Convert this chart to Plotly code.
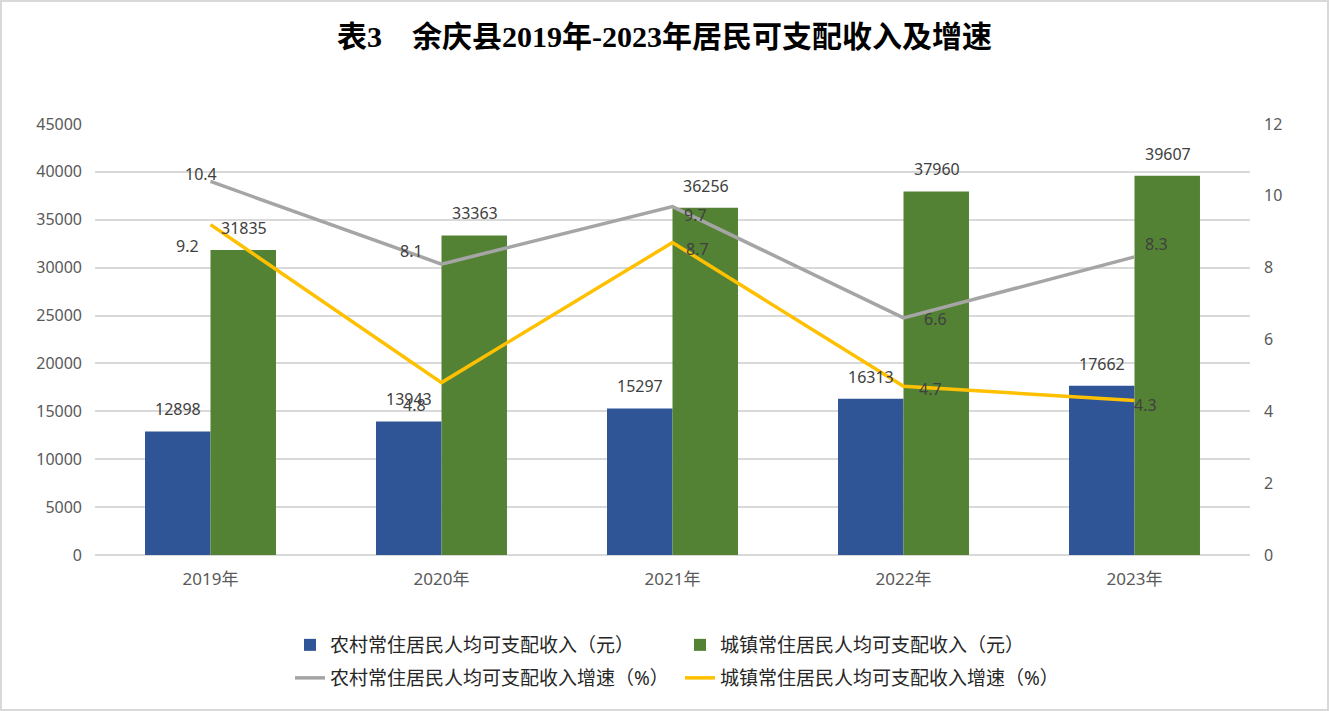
import plotly.graph_objects as go

# data
years = ['2019年', '2020年', '2021年', '2022年', '2023年']
rural_income = [12898, 13943, 15297, 16313, 17662]
urban_income = [31835, 33363, 36256, 37960, 39607]
rural_growth = [10.4, 8.1, 9.7, 6.6, 8.3]
urban_growth = [9.2, 4.8, 8.7, 4.7, 4.3]

# label offsets (px) for the line labels, as placed in the original chart
rural_label_shift = [(-10, 7), (-30, 13), (23, -8), (32, -1), (22, 13)]
urban_label_shift = [(-23, -21), (-27, -22), (25, -6), (27, -3), (11, -4)]

W, H = 1329, 711
L, R, T, B = 95, 79, 124, 156
pw, ph = W - L - R, H - T - B

font_main = 'Noto Sans, Noto Sans CJK SC'
label_font = dict(family=font_main, size=16, color='#404040')
tick_font = dict(family=font_main, size=16, color='#595959')

fig = go.Figure()

fig.add_trace(go.Bar(
    x=years, y=rural_income, name='农村常住居民人均可支配收入（元）',
    marker_color='#2F5597', marker_line_width=0, legend='legend'))
fig.add_trace(go.Bar(
    x=years, y=urban_income, name='城镇常住居民人均可支配收入（元）',
    marker_color='#548235', marker_line_width=0, legend='legend'))

fig.add_trace(go.Scatter(
    x=years, y=rural_growth, yaxis='y2', mode='lines',
    name='农村常住居民人均可支配收入增速（%）',
    line=dict(color='#A5A5A5', width=3.5), legend='legend2'))
fig.add_trace(go.Scatter(
    x=years, y=urban_growth, yaxis='y2', mode='lines',
    name='城镇常住居民人均可支配收入增速（%）',
    line=dict(color='#FFC000', width=3.5), legend='legend2'))

annotations = []
for yr, v in zip(years, rural_income):
    annotations.append(dict(x=yr, y=v, xref='x', yref='y', text=str(v), showarrow=False,
                            xshift=-33, yshift=22, font=label_font))
for yr, v in zip(years, urban_income):
    annotations.append(dict(x=yr, y=v, xref='x', yref='y', text=str(v), showarrow=False,
                            xshift=33, yshift=22, font=label_font))
for yr, v, (dx, dy) in zip(years, rural_growth, rural_label_shift):
    annotations.append(dict(x=yr, y=v, xref='x', yref='y2', text=str(v), showarrow=False,
                            xshift=dx, yshift=dy, font=label_font))
for yr, v, (dx, dy) in zip(years, urban_growth, urban_label_shift):
    annotations.append(dict(x=yr, y=v, xref='x', yref='y2', text=str(v), showarrow=False,
                            xshift=dx, yshift=dy, font=label_font))

legend_x = (290 - L) / pw
common_legend = dict(orientation='h', x=legend_x, xanchor='left', yanchor='middle',
                     font=dict(family=font_main, size=19, color='#262626'),
                     entrywidth=345, bgcolor='rgba(0,0,0,0)', traceorder='normal')

fig.update_layout(
    width=W, height=H,
    margin=dict(l=L, r=R, t=T, b=B),
    paper_bgcolor='white', plot_bgcolor='white',
    title=dict(text='<b>表3　余庆县2019年-2023年居民可支配收入及增速</b>',
               x=0.5, xanchor='center', y=1 - 36 / H, yanchor='middle',
               font=dict(family='Liberation Serif, Noto Sans CJK SC', size=30, color='black')),
    barmode='group', bargap=0.433, bargroupgap=0,
    xaxis=dict(tickfont=dict(family=font_main, size=17, color='#595959'),
               showline=False, ticks='', ticklabelstandoff=12),
    yaxis=dict(range=[0, 45000], dtick=5000, tickformat='d', showgrid=True,
               gridcolor='#D9D9D9', gridwidth=1.5, zeroline=True,
               zerolinecolor='#D9D9D9', zerolinewidth=1.5,
               tickfont=tick_font, ticklabelstandoff=12),
    yaxis2=dict(range=[0, 12], dtick=2, overlaying='y', side='right', showgrid=False,
                zeroline=False, tickfont=tick_font, ticklabelstandoff=13),
    legend=dict(common_legend, y=-(645 - (T + ph)) / ph),
    legend2=dict(common_legend, y=-(678 - (T + ph)) / ph),
    annotations=annotations,
    shapes=[dict(type='rect', xref='paper', yref='paper',
                 x0=-(L - 1) / pw, x1=1 + (R - 1) / pw,
                 y0=-(B - 1) / ph, y1=1 + (T - 1) / ph,
                 line=dict(color='#D9D9D9', width=2), fillcolor='rgba(0,0,0,0)')],
)

fig.write_html('out.html', config={'displayModeBar': False},
               post_script="document.body.style.margin='0';")
